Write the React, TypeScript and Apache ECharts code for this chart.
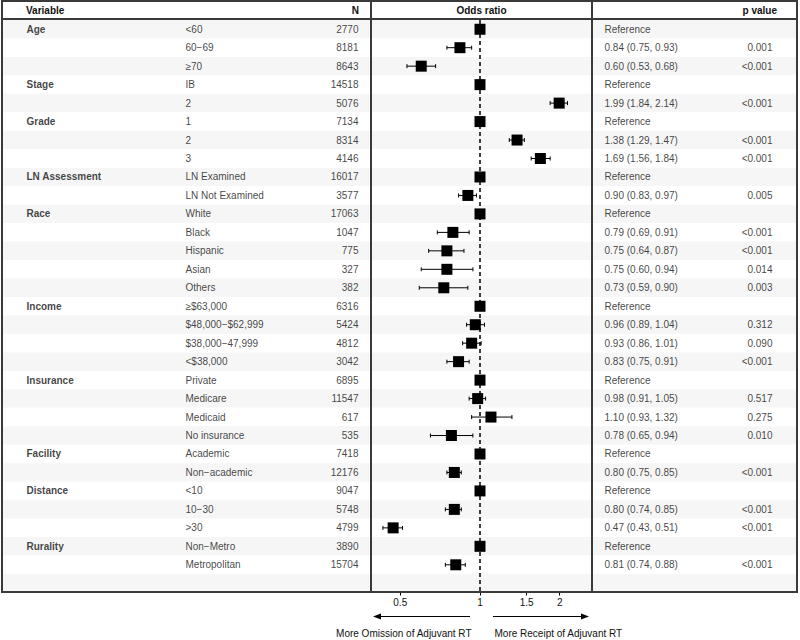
import React, { useEffect, useRef } from 'react';
import * as echarts from 'echarts';

// ---------- data ----------
const groupLabels = [
  'Age', '', '', 'Stage', '', 'Grade', '', '', 'LN Assessment', '',
  'Race', '', '', '', '', 'Income', '', '', '', 'Insurance', '', '', '',
  'Facility', '', 'Distance', '', '', 'Rurality', '',
];
const levels = [
  '<60', '60\u221269', '\u226570', 'IB', '2', '1', '2', '3', 'LN Examined', 'LN Not Examined',
  'White', 'Black', 'Hispanic', 'Asian', 'Others',
  '\u2265$63,000', '$48,000\u2212$62,999', '$38,000\u221247,999', '<$38,000',
  'Private', 'Medicare', 'Medicaid', 'No insurance',
  'Academic', 'Non\u2212academic', '<10', '10\u221230', '>30', 'Non\u2212Metro', 'Metropolitan',
];
const counts = [
  2770, 8181, 8643, 14518, 5076, 7134, 8314, 4146, 16017, 3577,
  17063, 1047, 775, 327, 382, 6316, 5424, 4812, 3042,
  6895, 11547, 617, 535, 7418, 12176, 9047, 5748, 4799, 3890, 15704,
];
const oddsRatio = [
  1, 0.84, 0.60, 1, 1.99, 1, 1.38, 1.69, 1, 0.90,
  1, 0.79, 0.75, 0.75, 0.73, 1, 0.96, 0.93, 0.83,
  1, 0.98, 1.10, 0.78, 1, 0.80, 1, 0.80, 0.47, 1, 0.81,
];
const ciLower: (number | null)[] = [
  null, 0.75, 0.53, null, 1.84, null, 1.29, 1.56, null, 0.83,
  null, 0.69, 0.64, 0.60, 0.59, null, 0.89, 0.86, 0.75,
  null, 0.91, 0.93, 0.65, null, 0.75, null, 0.74, 0.43, null, 0.74,
];
const ciUpper: (number | null)[] = [
  null, 0.93, 0.68, null, 2.14, null, 1.47, 1.84, null, 0.97,
  null, 0.91, 0.87, 0.94, 0.90, null, 1.04, 1.01, 0.91,
  null, 1.05, 1.32, 0.94, null, 0.85, null, 0.85, 0.51, null, 0.88,
];
const pValues = [
  '', '0.001', '<0.001', '', '<0.001', '', '<0.001', '<0.001', '', '0.005',
  '', '<0.001', '<0.001', '0.014', '0.003', '', '0.312', '0.090', '<0.001',
  '', '0.517', '0.275', '0.010', '', '<0.001', '', '<0.001', '<0.001', '', '<0.001',
];
const xTicks = [0.5, 1, 1.5, 2];
const headers = { variable: 'Variable', n: 'N', or: 'Odds ratio', p: 'p value' };
const arrowLabels = ['More Omission of Adjuvant RT', 'More Receipt of Adjuvant RT'];

// ---------- layout ----------
const FONT = "'Liberation Sans', Arial, Helvetica, sans-serif";
const FS = 10;
const TXT = '#111111';
const LINE = '#3a3a3a';
const TOP = 20;
const BOTTOM_Y = 592.5;
const PLOT_L = 371;
const PLOT_R = 592;
const COL = { group: 26, level: 185, n: 359, or: 604, p: 773 };

export default function App() {
  const ref = useRef<HTMLDivElement>(null);
  useEffect(() => {
    document.body.style.margin = '0';
    const chart = echarts.init(ref.current!, null, { renderer: 'svg' });
    const rowCount = levels.length + 1;
    const cats = Array.from({ length: rowCount }, (_, i) => String(i));

    const orText = oddsRatio.map((v, i) =>
      ciLower[i] == null ? 'Reference' : `${v.toFixed(2)} (${(ciLower[i] as number).toFixed(2)}, ${(ciUpper[i] as number).toFixed(2)})`
    );

    const textSeries = (x: number, texts: string[], anchor: 'start' | 'end', bold = false) => ({
      type: 'scatter',
      xAxisIndex: 0,
      yAxisIndex: 0,
      symbolSize: 1,
      silent: true,
      itemStyle: { color: 'transparent' },
      data: texts
        .map((t, i) => ({ name: t, value: [x, i] }))
        .filter((d) => d.name !== ''),
      label: {
        show: true,
        position: anchor === 'start' ? 'right' : 'left',
        distance: 0,
        formatter: '{b}',
        color: TXT,
        fontSize: FS,
        fontFamily: FONT,
        fontWeight: bold ? 'bold' : 'normal',
      },
      z: 5,
    });

    const lnMin = (PLOT_L - 480) / 115.05;
    const lnMax = (PLOT_R - 480) / 115.05;
    const tickLn = xTicks.map((t) => Math.log(t));

    const ciData = oddsRatio
      .map((v, i) => (ciLower[i] == null ? null : [Math.log(v), Math.log(ciLower[i] as number), Math.log(ciUpper[i] as number), i]))
      .filter((d) => d !== null);

    const headerFont = (weight: string) => `${weight} ${FS}px ${FONT}`;

    const option: any = {
      animation: false,
      grid: [
        { left: 3, right: 3.5, top: TOP, bottom: 640 - BOTTOM_Y },
        { left: PLOT_L, right: 800 - PLOT_R, top: TOP, bottom: 640 - BOTTOM_Y },
      ],
      xAxis: [
        { type: 'value', gridIndex: 0, min: 3, max: 796.5, show: false },
        {
          type: 'value',
          gridIndex: 1,
          min: lnMin,
          max: lnMax,
          axisLine: { show: false },
          splitLine: { show: false },
          axisTick: { show: true, customValues: tickLn, length: 3, lineStyle: { color: '#000', width: 1 } },
          axisLabel: {
            customValues: tickLn,
            formatter: (v: number) => String(+Math.exp(v).toFixed(2)),
            fontSize: FS,
            fontFamily: FONT,
            color: TXT,
            margin: 5,
          },
        },
      ],
      yAxis: [
        {
          type: 'category',
          gridIndex: 0,
          data: cats,
          inverse: true,
          axisLine: { show: false },
          axisTick: { show: false, interval: 0 },
          axisLabel: { show: false, interval: 0 },
          splitLine: { show: false },
          splitArea: { show: true, interval: 0, areaStyle: { color: ['#f6f6f6', '#ffffff'] } },
        },
        {
          type: 'category',
          gridIndex: 1,
          data: cats,
          inverse: true,
          show: false,
        },
      ],
      series: [
        textSeries(COL.group, groupLabels, 'start', true),
        textSeries(COL.level, levels, 'start'),
        textSeries(COL.n, counts.map(String), 'end'),
        textSeries(COL.or, orText, 'start'),
        textSeries(COL.p, pValues, 'end'),
        {
          type: 'custom',
          xAxisIndex: 1,
          yAxisIndex: 1,
          silent: true,
          data: ciData,
          encode: { x: [0, 1, 2], y: 3 },
          renderItem: (params: any, api: any) => {
            const row = api.value(3);
            const p1 = api.coord([api.value(1), row]);
            const p2 = api.coord([api.value(2), row]);
            const y = p1[1];
            const st = { stroke: '#000', lineWidth: 1 };
            return {
              type: 'group',
              children: [
                { type: 'line', shape: { x1: p1[0], y1: y, x2: p2[0], y2: y }, style: st },
                { type: 'line', shape: { x1: p1[0], y1: y - 2, x2: p1[0], y2: y + 2 }, style: st },
                { type: 'line', shape: { x1: p2[0], y1: y - 2, x2: p2[0], y2: y + 2 }, style: st },
              ],
            };
          },
          z: 6,
        },
        {
          type: 'scatter',
          xAxisIndex: 1,
          yAxisIndex: 1,
          symbol: 'rect',
          symbolSize: 11,
          silent: true,
          itemStyle: { color: '#000', opacity: 1 },
          data: oddsRatio.map((v, i) => [Math.log(v), i]),
          z: 7,
          markLine: {
            silent: true,
            symbol: ['none', 'none'],
            label: { show: false },
            lineStyle: { type: [4, 3], color: '#000', width: 1.5, opacity: 1 },
            data: [{ xAxis: 0 }],
          },
        },
      ],
      graphic: [
        { type: 'rect', z: 100, shape: { x: 2, y: 1, width: 795, height: 591 }, style: { fill: 'none', stroke: LINE, lineWidth: 2 } },
        { type: 'line', z: 100, shape: { x1: 2, y1: 19, x2: 797, y2: 19 }, style: { stroke: LINE, lineWidth: 2 } },
        { type: 'line', z: 100, shape: { x1: PLOT_L, y1: 1, x2: PLOT_L, y2: 592 }, style: { stroke: LINE, lineWidth: 2 } },
        { type: 'line', z: 100, shape: { x1: PLOT_R, y1: 1, x2: PLOT_R, y2: 592 }, style: { stroke: LINE, lineWidth: 2 } },
        { type: 'text', z: 100, style: { text: headers.variable, x: COL.group, y: 10.5, align: 'left', verticalAlign: 'middle', font: headerFont('bold'), fill: TXT } },
        { type: 'text', z: 100, style: { text: headers.n, x: COL.n, y: 10.5, align: 'right', verticalAlign: 'middle', font: headerFont('bold'), fill: TXT } },
        { type: 'text', z: 100, style: { text: headers.or, x: 481.5, y: 10.5, align: 'center', verticalAlign: 'middle', font: headerFont('bold'), fill: TXT } },
        { type: 'text', z: 100, style: { text: headers.p, x: 777, y: 10.5, align: 'right', verticalAlign: 'middle', font: headerFont('bold'), fill: TXT } },
        // arrows
        { type: 'line', z: 100, shape: { x1: 380, y1: 616.5, x2: 470, y2: 616.5 }, style: { stroke: '#000', lineWidth: 1.2 } },
        { type: 'polygon', z: 100, shape: { points: [[373, 616.5], [381, 613.5], [381, 619.5]] }, style: { fill: '#000' } },
        { type: 'line', z: 100, shape: { x1: 493, y1: 616.5, x2: 582, y2: 616.5 }, style: { stroke: '#000', lineWidth: 1.2 } },
        { type: 'polygon', z: 100, shape: { points: [[589, 616.5], [581, 613.5], [581, 619.5]] }, style: { fill: '#000' } },
        { type: 'text', z: 100, style: { text: arrowLabels[0], x: 471.5, y: 633, align: 'right', verticalAlign: 'middle', font: headerFont('normal'), fill: TXT } },
        { type: 'text', z: 100, style: { text: arrowLabels[1], x: 494.5, y: 633, align: 'left', verticalAlign: 'middle', font: headerFont('normal'), fill: TXT } },
      ],
    };
    chart.setOption(option);
    return () => chart.dispose();
  }, []);
  return <div ref={ref} style={{ width: 800, height: 640 }} />;
}
